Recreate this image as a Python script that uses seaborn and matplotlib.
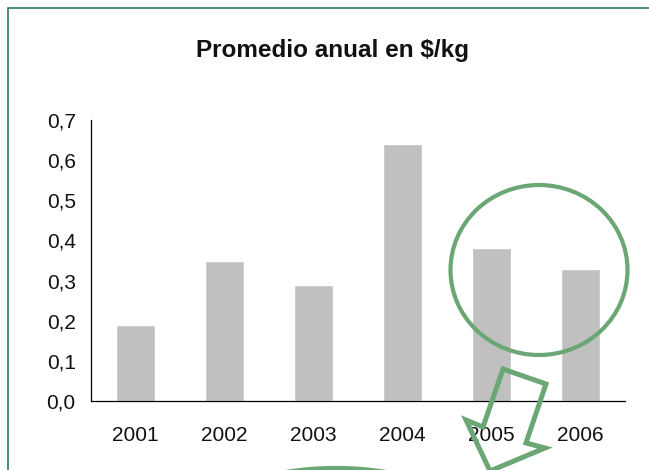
import matplotlib
matplotlib.use("Agg")
import matplotlib.pyplot as plt
import seaborn as sns
import pandas as pd
from matplotlib.patches import Ellipse, Polygon, Rectangle

years = ["2001", "2002", "2003", "2004", "2005", "2006"]
values = [0.19, 0.35, 0.29, 0.64, 0.38, 0.33]
yticks = [0.0, 0.1, 0.2, 0.3, 0.4, 0.5, 0.6, 0.7]
ytick_labels = ["0,0", "0,1", "0,2", "0,3", "0,4", "0,5", "0,6", "0,7"]
title = "Promedio anual en $/kg"

sns.set_theme(style="white")
plt.rcParams["font.family"] = ["Liberation Sans", "DejaVu Sans"]

W, H = 649, 470
fig = plt.figure(figsize=(W / 100, H / 100), dpi=100)
ax = fig.add_axes([91 / W, 1 - 401 / H, (625 - 91) / W, (401 - 120) / H])

df = pd.DataFrame({"year": years, "value": values})
sns.barplot(data=df, x="year", y="value", color="#c0c0c0", width=0.43,
            saturation=1, ax=ax)

ax.set_ylim(0, 0.7)
ax.set_yticks(yticks)
ax.set_yticklabels(ytick_labels)
ax.set_xlabel("")
ax.set_ylabel("")
for s in ["top", "right"]:
    ax.spines[s].set_visible(False)
for s in ["left", "bottom"]:
    ax.spines[s].set_color("black")
    ax.spines[s].set_linewidth(0.9)
ax.tick_params(axis="both", length=0, labelsize=15, colors="#111111")
ax.tick_params(axis="y", pad=11)
ax.tick_params(axis="x", pad=18)

fig.text(333 / W, 1 - 50 / H, title, ha="center", va="center",
         fontsize=17.5, fontweight="bold", color="#111111")

def fx(x):
    return x / W

def fy(y):
    return 1 - y / H

green = "#6aa775"
# frame
fig.add_artist(Rectangle((fx(8), -0.2), 1.2, fy(8) + 0.2, transform=fig.transFigure,
                         fill=False, edgecolor="#2e7d4f", linewidth=1.2, zorder=10))
# circle
fig.add_artist(Ellipse((fx(539), fy(270)), 177 / W, 170 / H, transform=fig.transFigure,
                       fill=False, edgecolor=green, linewidth=3, zorder=10))
# arrow outline
pts = [(503, 369), (546, 384), (526, 443), (545, 448), (490, 471),
       (466, 420), (483, 427)]
fig.add_artist(Polygon([(fx(x), fy(y)) for x, y in pts], closed=True,
                       transform=fig.transFigure, fill=False, edgecolor=green,
                       linewidth=3.6, joinstyle="miter", zorder=10))
# bottom ellipse
fig.add_artist(Ellipse((fx(336), fy(528)), 280 / W, 120 / H, transform=fig.transFigure,
                       fill=False, edgecolor=green, linewidth=3, zorder=10))

fig.savefig("out.png", dpi=100)
